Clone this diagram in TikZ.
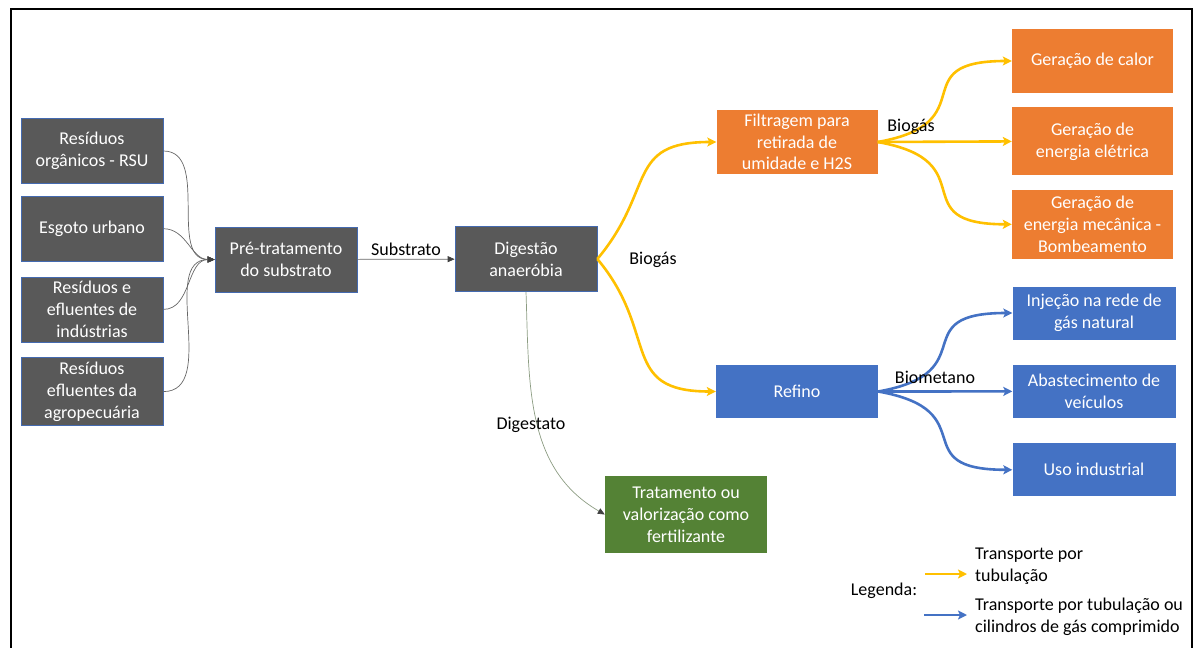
\documentclass[tikz,border=0pt]{standalone}
\usepackage{fontspec}
\setmainfont{Carlito}
\usetikzlibrary{arrows.meta, positioning}
\definecolor{dkC}{RGB}{89, 89, 89}
\definecolor{edC}{RGB}{68, 106, 176}
\definecolor{orC}{RGB}{237, 125, 49}
\definecolor{blC}{RGB}{68, 114, 196}
\definecolor{grC}{RGB}{84, 130, 53}
\definecolor{ylC}{RGB}{255, 192, 0}
\definecolor{dgC}{RGB}{140, 156, 130}
\newcommand{\boxfont}{\fontsize{18}{21.8}\selectfont}
\tikzset{
  box/.style  = {rectangle, fill=#1, text=white, align=center,
                 inner sep=1pt, font=\boxfont},
  src/.style  = {box=dkC, draw=edC, line width=0.7pt,
                 minimum width=142pt, minimum height=65pt},
  orbox/.style= {box=orC, minimum width=161pt, minimum height=#1},
  blbox/.style= {box=blC, minimum width=163pt, minimum height=53pt},
  grbox/.style= {box=grC, minimum width=162pt, minimum height=77pt},
  gas/.style  = {-{Stealth[length=9pt,width=9pt,inset=2pt]},
                 line width=2.6pt, color=#1},
  thin/.style = {-{Triangle[length=7pt,width=6pt,color=black!75]},
                 line width=0.7pt, color=#1},
  lbl/.style  = {font=\boxfont, text=black, inner sep=1pt},
}

\begin{document}
\begin{tikzpicture}[x=1pt, y=-1pt]
\useasboundingbox (0,0) rectangle (1195,648);

% ---- Frame ------------------------------------------------------------------
\draw[line width=2.4pt] (11,660) |- (1192,9) -- (1192,660);

% ---- Sources ----------------------------------------------------------------
\node[src] (rsu) at (92,151) {Resíduos\\orgânicos - RSU};
\node[src, below=12pt of rsu] (esg) {Esgoto urbano};
\node[src, below=15pt of esg] (ind) {Resíduos e\\efluentes de\\indústrias};
\node[src, minimum height=68pt, below=15pt of ind] (agr)
  {Resíduos\\efluentes da\\agropecuária};

% ---- Process chain ----------------------------------------------------------
\node[src] (pre) at (286,259.5) {Pré-tratamento\\do substrato};
\node[src] (dig) at (526,259) {Digestão\\anaeróbia};

\foreach \s in {rsu, esg, ind, agr}
  \draw[thin=gray!80!black] (\s.east) to[out=0, in=180] (pre.west);

\draw[thin=gray!80!black] (pre) -- node[lbl, above=2pt]{Substrato} (dig);

% ---- Biogas branch ----------------------------------------------------------
\node[orbox=64pt] (filt) at (797,142) {Filtragem para\\retirada de\\umidade e H2S};
\node[blbox, minimum width=162pt] (ref) at (797,391.5) {Refino};

\draw[gas=ylC] (dig.east) to[out=50, in=180, looseness=1.4] (filt.west);
\draw[gas=ylC] (dig.east) to[out=-50, in=180, looseness=1.4] (ref.west);
\node[lbl] (bio) at (653,260) {Biogás};

% ---- Energy uses ------------------------------------------------------------
\node[orbox=64pt] (calor) at (1092.5,61) {Geração de calor};
\node[orbox=68pt, below=14pt of calor] (elet) {Geração de\\energia elétrica};
\node[orbox=69pt, below=14pt of elet] (mec)
  {Geração de\\energia mecânica -\\Bombeamento};

\draw[gas=ylC] (filt.east) to[out=10, in=180, looseness=1.8] (calor.west);
\draw[gas=ylC] (filt.east) -- (elet.west);
\draw[gas=ylC] (filt.east) to[out=-10, in=180, looseness=1.8] (mec.west);
\node[lbl] (biof) at (911,127) {Biogás};

% ---- Biomethane uses --------------------------------------------------------
\node[blbox] (inj) at (1094,313) {Injeção na rede de\\gás natural};
\node[blbox, below=25pt of inj] (abs) {Abastecimento de\\veículos};
\node[blbox, below=25pt of abs] (uso) {Uso industrial};

\draw[gas=blC] (ref.east) to[out=10, in=180, looseness=1.8] (inj.west);
\draw[gas=blC] (ref.east) -- (abs.west);
\draw[gas=blC] (ref.east) to[out=-10, in=180, looseness=1.8] (uso.west);
\node[lbl] (biom) at (935,377) {Biometano};

% ---- Digestate --------------------------------------------------------------
\node[grbox] (trat) at (686,514.5) {Tratamento ou\\valorização como\\fertilizante};
\draw[thin=dgC] (dig.south) to[out=-88, in=150] (trat.west);
\node[lbl] (dgt) at (531,425) {Digestato};

% ---- Legend -----------------------------------------------------------------
\node[lbl] (leg) at (884,591) {Legenda:};
\coordinate (ya) at (925,574);
\coordinate (yb) at (967,574);
\coordinate (ba) at (924,615);
\coordinate (bb) at (967,615);
\draw[gas=ylC] (ya) -- (yb);
\draw[gas=blC] (ba) -- (bb);
\node[lbl, anchor=west, align=left] (legy) at (974,566)
  {Transporte por\\tubulação};
\node[lbl, anchor=west, align=left] (legb) at (974,617)
  {Transporte por tubulação ou\\cilindros de gás comprimido};

\end{tikzpicture}
\end{document}
